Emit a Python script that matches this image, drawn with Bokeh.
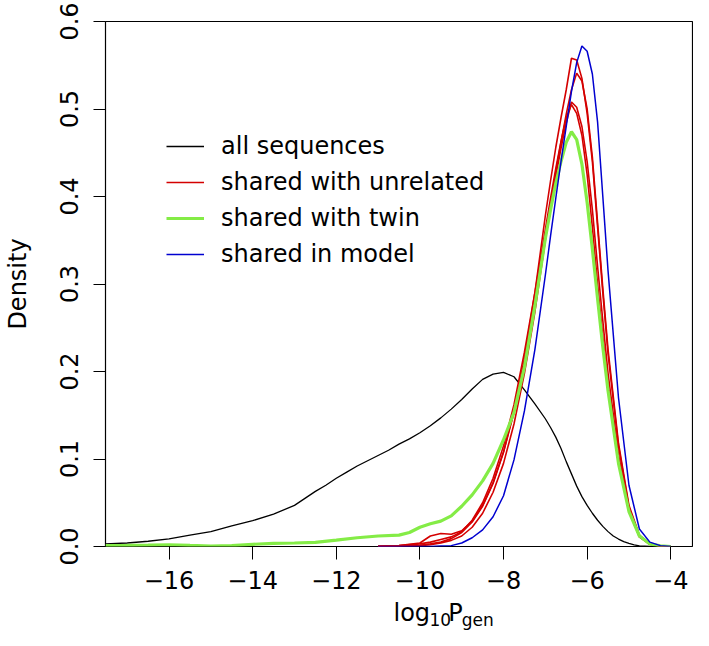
from bokeh.plotting import figure
from bokeh.layouts import column
from bokeh.models import (Range1d, FixedTicker, CustomJSTickFormatter, PrintfTickFormatter,
                          Legend, LegendItem, Label)
from bokeh.embed import file_html
from bokeh.resources import INLINE

FONT = "DejaVu Sans"

# ---------------- data ----------------
x_ticks = [-16, -14, -12, -10, -8, -6, -4]
x_tick_labels = ["\u221216", "\u221214", "\u221212", "\u221210", "\u22128", "\u22126", "\u22124"]
y_ticks = [0.0, 0.1, 0.2, 0.3, 0.4, 0.5, 0.6]
y_tick_labels = ["0.0", "0.1", "0.2", "0.3", "0.4", "0.5", "0.6"]

series_names = ["all sequences", "shared with unrelated", "shared with twin", "shared in model"]

# all sequences (black)
all_x = [-17.52, -17.0, -16.5, -16.0, -15.5, -15.0, -14.5, -14.0, -13.5, -13.0, -12.75, -12.5,
         -12.25, -12.0, -11.75, -11.5, -11.25, -11.0, -10.75, -10.5, -10.25, -10.0, -9.75, -9.5,
         -9.25, -9.0, -8.75, -8.5, -8.25, -8.0, -7.75, -7.5, -7.25, -7.0, -6.875, -6.75, -6.625,
         -6.5, -6.375, -6.25, -6.125, -6.0, -5.875, -5.75, -5.625, -5.5, -5.375, -5.25, -5.125,
         -5.0, -4.875, -4.75, -4.5, -4.25]
all_y = [0.003, 0.004, 0.006, 0.0088, 0.013, 0.017, 0.0235, 0.0295, 0.037, 0.047, 0.055, 0.063,
         0.070, 0.078, 0.085, 0.092, 0.098, 0.104, 0.110, 0.117, 0.123, 0.130, 0.138, 0.147,
         0.157, 0.168, 0.180, 0.191, 0.197, 0.199, 0.194, 0.179, 0.163, 0.146, 0.136, 0.125, 0.112,
         0.097, 0.083, 0.069, 0.057, 0.047, 0.038, 0.030, 0.023, 0.017, 0.012, 0.0085, 0.0055,
         0.0035, 0.0018, 0.0008, 0.0002, 0.0]

# common x grid for the peaked curves
peak_x = [-11.0, -10.5, -10.0, -9.75, -9.5, -9.25, -9.0, -8.75, -8.5, -8.25, -8.0, -7.75, -7.5,
          -7.25, -7.0, -6.875, -6.75, -6.625, -6.5, -6.375, -6.25, -6.125, -6.0, -5.875, -5.75,
          -5.625, -5.5, -5.25, -5.0, -4.75, -4.5, -4.25, -4.0]

# shared with unrelated (red, several pairs)
red_a_y = [0.0, 0.0005, 0.0015, 0.003, 0.005, 0.009, 0.016, 0.028, 0.046, 0.072, 0.108, 0.155, 0.215,
           0.29, 0.378, 0.418, 0.456, 0.49, 0.522, 0.558, 0.556, 0.535, 0.495, 0.44, 0.365,
           0.29, 0.22, 0.115, 0.045, 0.012, 0.003, 0.0005, 0.0]
red_b_y = [0.0, 0.0005, 0.001, 0.002, 0.004, 0.007, 0.012, 0.022, 0.038, 0.062, 0.095, 0.14, 0.198,
           0.268, 0.35, 0.39, 0.428, 0.462, 0.494, 0.522, 0.541, 0.532, 0.50, 0.445, 0.37,
           0.295, 0.225, 0.118, 0.047, 0.013, 0.003, 0.0005, 0.0]
red_c_y = [0.0, 0.001, 0.004, 0.012, 0.0148, 0.014, 0.018, 0.029, 0.047, 0.073, 0.108, 0.153, 0.21,
           0.278, 0.352, 0.388, 0.423, 0.455, 0.484, 0.508, 0.502, 0.48, 0.44, 0.385, 0.32,
           0.258, 0.198, 0.105, 0.042, 0.011, 0.0025, 0.0005, 0.0]
red_d_y = [0.0005, 0.001, 0.003, 0.005, 0.008, 0.011, 0.017, 0.03, 0.05, 0.078, 0.115, 0.162, 0.222,
           0.29, 0.362, 0.398, 0.432, 0.463, 0.49, 0.505, 0.495, 0.47, 0.425, 0.365, 0.30,
           0.24, 0.185, 0.098, 0.04, 0.011, 0.0025, 0.0005, 0.0]

# shared in model (blue)
blue_y = [0.0, 0.0, 0.0, 0.0, 0.0005, 0.001, 0.004, 0.010, 0.019, 0.034, 0.058, 0.099, 0.155,
          0.225, 0.31, 0.355, 0.398, 0.44, 0.48, 0.52, 0.553, 0.572, 0.566, 0.54, 0.485,
          0.40, 0.315, 0.17, 0.07, 0.02, 0.005, 0.001, 0.0]

# shared with twin (green)
green_x = [-17.52, -17.0, -16.5, -16.0, -15.5, -15.0, -14.5, -14.0, -13.5, -13.0, -12.5, -12.0,
           -11.5, -11.0, -10.5, -10.25, -10.0, -9.75, -9.5, -9.25, -9.0, -8.75, -8.5, -8.25,
           -8.0, -7.75, -7.5, -7.25, -7.0, -6.875, -6.75, -6.625, -6.5, -6.375, -6.25, -6.125,
           -6.0, -5.875, -5.75, -5.625, -5.5, -5.25, -5.0, -4.75, -4.5, -4.25, -4.0]
green_y = [0.001, 0.0012, 0.0015, 0.002, 0.0012, 0.0005, 0.001, 0.0025, 0.0035, 0.004, 0.0048, 0.0072,
           0.010, 0.012, 0.013, 0.016, 0.022, 0.026, 0.029, 0.035, 0.046, 0.059, 0.075, 0.095,
           0.122, 0.153, 0.205, 0.275, 0.352, 0.385, 0.415, 0.44, 0.462, 0.474, 0.465, 0.437,
           0.393, 0.34, 0.283, 0.228, 0.178, 0.095, 0.04, 0.012, 0.003, 0.0008, 0.0]

BLACK = "#000000"
RED = "#d40000"
GREEN = "#84ec46"
BLUE = "#0000d0"

# ---------------- figure ----------------
W, H = 693, 598
ML, MR, MT, MB = 104, 1, 21, 52
XR = (-17.52, -3.48)
YR = (0.0, 0.6)

p = figure(width=W, height=H, x_range=Range1d(*XR), y_range=Range1d(*YR), title=None,
           output_backend="svg", toolbar_location=None,
           min_border_left=ML, min_border_right=MR, min_border_top=MT, min_border_bottom=MB)
p.grid.visible = False
p.outline_line_color = "black"
p.outline_line_width = 1.2
p.background_fill_color = "white"
p.border_fill_color = "white"

r_all = p.line(all_x, all_y, line_color=BLACK, line_width=1.3)
r_reds = []
for ys in (red_a_y, red_b_y, red_c_y, red_d_y):
    r_reds.append(p.line(peak_x, ys, line_color=RED, line_width=1.6))
r_green = p.line(green_x, green_y, line_color=GREEN, line_width=3.2)
r_blue = p.line(peak_x, blue_y, line_color=BLUE, line_width=1.5)

legend = Legend(items=[
    LegendItem(label=series_names[0], renderers=[r_all]),
    LegendItem(label=series_names[1], renderers=[r_reds[0]]),
    LegendItem(label=series_names[2], renderers=[r_green]),
    LegendItem(label=series_names[3], renderers=[r_blue]),
], location=(61, 274))
legend.border_line_color = None
legend.background_fill_alpha = 0
legend.padding = 0
legend.margin = 0
legend.spacing = 0
legend.glyph_width = 38
legend.glyph_height = 36
legend.label_height = 36
legend.label_standoff = 17
legend.label_text_font = FONT
legend.label_text_font_size = "24px"
legend.label_text_color = "black"
p.add_layout(legend, "center")

# axes
xa = p.xaxis[0]
xa.ticker = FixedTicker(ticks=x_ticks)
xa.formatter = CustomJSTickFormatter(code="return (tick < 0 ? '\\u2212' : '') + Math.abs(tick).toFixed(0);")
xa.major_label_overrides = dict(zip(x_ticks, x_tick_labels))
ya = p.yaxis[0]
ya.ticker = FixedTicker(ticks=y_ticks)
ya.formatter = PrintfTickFormatter(format="%.1f")
ya.major_label_overrides = dict(zip(y_ticks, y_tick_labels))
ya.major_label_orientation = "vertical"

for ax in (xa, ya):
    ax.axis_line_color = None
    ax.major_tick_in = 0
    ax.minor_tick_line_color = None
    ax.major_tick_line_color = "black"
    ax.major_tick_line_width = 1
    ax.major_label_text_font = FONT
    ax.major_label_text_font_size = "24px"
    ax.major_label_text_color = "black"
xa.major_tick_out = 13
xa.major_label_standoff = 11
ya.major_tick_out = 12
ya.major_label_standoff = 16

ya.axis_label = "Density"
ya.axis_label_text_font = FONT
ya.axis_label_text_font_size = "24px"
ya.axis_label_text_font_style = "normal"
ya.axis_label_text_color = "black"
ya.axis_label_standoff = 25

# x axis title  log10 P gen  (with subscripts) in a strip below the plot
H2 = 32
t = figure(width=W, height=H2, x_range=Range1d(0, W), y_range=Range1d(0, H2), title=None,
           output_backend="svg", toolbar_location=None, min_border=0,
           min_border_left=0, min_border_right=0, min_border_top=0, min_border_bottom=0,
           x_axis_location=None, y_axis_location=None)
t.grid.visible = False
t.outline_line_color = None
t.background_fill_color = "white"
t.border_fill_color = "white"
xc = (ML + (W - MR)) / 2
parts = [("log", -58, 17.3, "24px"), ("10", -15.5, 10.9, "17px"),
         ("P", 6.5, 17.3, "24px"), ("gen", 22.5, 10.9, "17px")]
for txt, off, yc, fs in parts:
    t.add_layout(Label(x=xc + off, y=yc, text=txt, text_font=FONT, text_font_size=fs,
                       text_align="left", text_baseline="middle", text_color="black"))

layout = column(p, t, spacing=0)
open("out.html", "w").write(file_html(layout, INLINE))
